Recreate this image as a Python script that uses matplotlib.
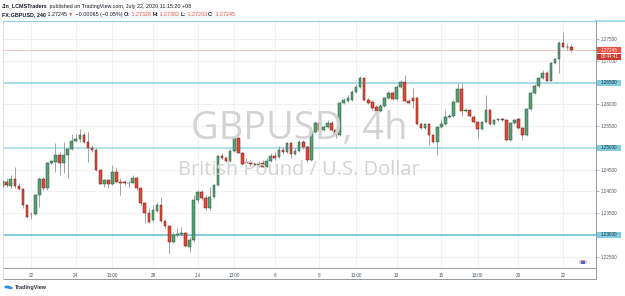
import matplotlib
matplotlib.use("Agg")
import matplotlib.pyplot as plt
from matplotlib.lines import Line2D
from matplotlib.patches import Rectangle, Circle

W, H = 625, 296

# ---------------- data (GBPUSD 4h, prices) ----------------
opens = [1.24123, 1.24222, 1.24130, 1.24284, 1.24130, 1.24054, 1.23686, 1.23472, 1.23479, 1.23916,
         1.24284, 1.24077, 1.24652, 1.24682, 1.24836, 1.24659, 1.24836, 1.24974, 1.25165, 1.25204,
         1.25296, 1.25142, 1.25004, 1.24951, 1.24491, 1.24176, 1.24261, 1.24162, 1.24452, 1.24222,
         1.24208, 1.24185, 1.24192, 1.24300, 1.24070, 1.23725, 1.23495, 1.23341, 1.23555, 1.23679,
         1.23325, 1.23210, 1.22842, 1.22996, 1.23012, 1.23035, 1.22727, 1.22881, 1.23801, 1.23992,
         1.23854, 1.23610, 1.23863, 1.24146, 1.24813, 1.24760, 1.24698, 1.24935, 1.25234, 1.24889,
         1.24682, 1.24645, 1.24629, 1.24606, 1.24645, 1.24567, 1.24698, 1.24813, 1.24790, 1.24951,
         1.24905, 1.25105, 1.24852, 1.24928, 1.25135, 1.25020, 1.24721, 1.25372, 1.25579, 1.25411,
         1.25487, 1.25579, 1.25411, 1.25296, 1.26025, 1.26085, 1.26101, 1.26292, 1.26407, 1.26600,
         1.26101, 1.26062, 1.25933, 1.25855, 1.25963, 1.26140, 1.26269, 1.26117, 1.26393, 1.26508,
         1.26085, 1.26140, 1.26140, 1.25542, 1.25464, 1.25542, 1.25296, 1.25142, 1.25473, 1.25549,
         1.25710, 1.25733, 1.26062, 1.26347, 1.25855, 1.25871, 1.25717, 1.25588, 1.25427, 1.25588,
         1.25871, 1.25542, 1.25641, 1.25664, 1.25634, 1.25181, 1.25579, 1.25657, 1.25464, 1.25296,
         1.25887, 1.26255, 1.26423, 1.26600, 1.26729, 1.26545, 1.26945, 1.27037, 1.27419, 1.27327,
         1.27328]
highs = [1.24261, 1.24307, 1.24376, 1.24560, 1.24192, 1.24077, 1.23709, 1.23525, 1.23939, 1.24330,
         1.24330, 1.24675, 1.24721, 1.25112, 1.24905, 1.25135, 1.24997, 1.25319, 1.25319, 1.25434,
         1.25372, 1.25372, 1.25066, 1.24990, 1.24514, 1.24284, 1.24284, 1.24606, 1.24567, 1.24300,
         1.24261, 1.24238, 1.24376, 1.24337, 1.24084, 1.23748, 1.23610, 1.23686, 1.23748, 1.23877,
         1.23341, 1.23226, 1.23072, 1.23157, 1.23187, 1.23072, 1.22957, 1.23916, 1.24031, 1.24031,
         1.23916, 1.24107, 1.24169, 1.24836, 1.24882, 1.24813, 1.24974, 1.25273, 1.25319, 1.24905,
         1.24767, 1.24721, 1.24675, 1.24698, 1.24721, 1.24767, 1.24882, 1.24905, 1.25043, 1.25020,
         1.25135, 1.25135, 1.24997, 1.25181, 1.25181, 1.25066, 1.25388, 1.25618, 1.25618, 1.25526,
         1.25641, 1.25618, 1.25434, 1.26055, 1.26147, 1.26216, 1.26331, 1.26469, 1.26653, 1.26630,
         1.26147, 1.26101, 1.25986, 1.26009, 1.26170, 1.26308, 1.26308, 1.26446, 1.26561, 1.26676,
         1.26124, 1.26370, 1.26170, 1.25572, 1.25572, 1.25572, 1.25319, 1.25503, 1.25641, 1.25871,
         1.25779, 1.26101, 1.26485, 1.26485, 1.25917, 1.25894, 1.25756, 1.25618, 1.25618, 1.26216,
         1.25894, 1.25664, 1.25687, 1.25687, 1.25664, 1.25595, 1.25664, 1.25687, 1.25480, 1.25917,
         1.26285, 1.26469, 1.26630, 1.26791, 1.26768, 1.26975, 1.27067, 1.27458, 1.27672, 1.27412,
         1.27382]
lows = [1.24100, 1.24100, 1.24077, 1.24077, 1.24031, 1.23617, 1.23387, 1.23364, 1.23456, 1.23640,
        1.24031, 1.24031, 1.24629, 1.24445, 1.24376, 1.24422, 1.24307, 1.24951, 1.25135, 1.25135,
        1.25112, 1.24682, 1.24905, 1.24468, 1.24162, 1.24107, 1.24070, 1.24146, 1.24208, 1.23916,
        1.24146, 1.24107, 1.24185, 1.24031, 1.23686, 1.23265, 1.23265, 1.23302, 1.23532, 1.23302,
        1.23157, 1.22559, 1.22812, 1.22957, 1.22996, 1.22720, 1.22612, 1.22842, 1.23762, 1.23801,
        1.23571, 1.23571, 1.23847, 1.24123, 1.24744, 1.24675, 1.24675, 1.24905, 1.24882, 1.24606,
        1.24606, 1.24583, 1.24583, 1.24560, 1.24549, 1.24549, 1.24675, 1.24721, 1.24767, 1.24859,
        1.24882, 1.24767, 1.24836, 1.24905, 1.24974, 1.24675, 1.24698, 1.25342, 1.25388, 1.25388,
        1.25457, 1.25388, 1.25227, 1.25273, 1.26009, 1.26055, 1.26078, 1.26262, 1.26377, 1.26078,
        1.26009, 1.25871, 1.25825, 1.25825, 1.25940, 1.26124, 1.26101, 1.26101, 1.26377, 1.26055,
        1.26009, 1.25910, 1.25526, 1.25434, 1.25434, 1.25066, 1.25112, 1.24836, 1.25457, 1.25526,
        1.25687, 1.25710, 1.26055, 1.25733, 1.25825, 1.25710, 1.25572, 1.25227, 1.25411, 1.25572,
        1.25526, 1.25526, 1.25618, 1.25618, 1.25158, 1.25158, 1.25549, 1.25434, 1.25181, 1.25273,
        1.25871, 1.26239, 1.26400, 1.26584, 1.26538, 1.26538, 1.26929, 1.26729, 1.27297, 1.27251,
        1.27203]
closes = [1.24238, 1.24146, 1.24284, 1.24130, 1.24054, 1.23686, 1.23410, 1.23486, 1.23916, 1.24284,
          1.24077, 1.24652, 1.24698, 1.24836, 1.24659, 1.24836, 1.24974, 1.25165, 1.25211, 1.25296,
          1.25142, 1.25004, 1.24951, 1.24491, 1.24176, 1.24261, 1.24162, 1.24452, 1.24222, 1.24199,
          1.24185, 1.24199, 1.24300, 1.24070, 1.23739, 1.23495, 1.23302, 1.23571, 1.23686, 1.23325,
          1.23210, 1.22842, 1.22996, 1.23012, 1.23035, 1.22732, 1.22881, 1.23801, 1.23992, 1.23840,
          1.23610, 1.23863, 1.24146, 1.24813, 1.24760, 1.24698, 1.24935, 1.25234, 1.24889, 1.24629,
          1.24645, 1.24629, 1.24606, 1.24629, 1.24567, 1.24698, 1.24813, 1.24767, 1.24951, 1.24905,
          1.25105, 1.24852, 1.24928, 1.25128, 1.25020, 1.24721, 1.25372, 1.25579, 1.25411, 1.25487,
          1.25579, 1.25411, 1.25296, 1.26025, 1.26101, 1.26140, 1.26292, 1.26407, 1.26600, 1.26101,
          1.26039, 1.25910, 1.25855, 1.25963, 1.26140, 1.26269, 1.26117, 1.26407, 1.26508, 1.26078,
          1.26039, 1.26085, 1.25542, 1.25464, 1.25542, 1.25296, 1.25142, 1.25473, 1.25549, 1.25710,
          1.25733, 1.26062, 1.26347, 1.25855, 1.25871, 1.25733, 1.25588, 1.25427, 1.25588, 1.25871,
          1.25542, 1.25641, 1.25664, 1.25634, 1.25181, 1.25572, 1.25641, 1.25464, 1.25296, 1.25887,
          1.26255, 1.26423, 1.26600, 1.26715, 1.26545, 1.26945, 1.27037, 1.27419, 1.27313, 1.27313,
          1.27245]

time_tick_pos = [7, 18, 27, 37, 48, 57, 67, 78, 87, 97, 108, 117, 127, 138]
time_tick_labels = ["22", "24", "13:00", "29", "Jul", "13:00", "6", "8", "13:00", "13", "15", "13:00", "20", "22"]
price_ticks = [1.225, 1.230, 1.235, 1.240, 1.245, 1.250, 1.255, 1.260, 1.265, 1.270, 1.275]
level_lines = [1.2792, 1.2650, 1.2500, 1.2300]
last_price = 1.27245
countdown = "03:44:41"

FONT = ["Liberation Sans", "DejaVu Sans"]
plt.rcParams["font.family"] = FONT

fig = plt.figure(figsize=(W / 100, H / 100), dpi=100)
fig.patch.set_facecolor("white")

px_l, px_r, px_t, px_b = 2.5, 596, 20.5, 268
Y0, Y1 = 1.22237, 1.27930
ax = fig.add_axes([px_l / W, 1 - px_b / H, (px_r - px_l) / W, (px_b - px_t) / H])
ax.set_xlim(-0.05, 146.1)
ax.set_ylim(Y0, Y1)
ax.set_facecolor("white")

# grid
for p in price_ticks:
    ax.axhline(p, color="#f0f1f4", lw=0.7, zorder=0)
for t in time_tick_pos:
    ax.axvline(t, color="#f0f1f4", lw=0.7, zorder=0)

renderer = fig.canvas.get_renderer()

def fit(txt, target_w):
    w = txt.get_window_extent(renderer).width
    txt.set_fontsize(txt.get_fontsize() * target_w / w)

def fx(x):
    return x / W

def fy(y):
    return 1 - y / H

# watermark
wm1 = fig.text(fx(299), fy(138.5), "GBPUSD, 4h", ha="center", va="baseline",
               color="#d3d3d3", fontsize=30, family=["Open Sans", "DejaVu Sans"], zorder=1)
fit(wm1, 216)
wm2 = fig.text(fx(299), fy(175), "British Pound / U.S. Dollar", ha="center", va="baseline",
               color="#d3d3d3", fontsize=14, family=["Open Sans", "DejaVu Sans"], zorder=1)
fit(wm2, 242)

# level lines
for lv, c in zip(level_lines, ["#8fd3e3", "#8fd3e3", "#9fd9e6", "#5bbfd6"]):
    ax.axhline(lv, color=c, lw=1.1, zorder=2)
ax.axhline(last_price, color="#f6b9b2", lw=0.6, zorder=2)

# candles
up_body, up_edge = "#5b9f74", "#24583a"
dn_body, dn_edge = "#de4b3b", "#6d1a12"
for i, (o, h, l, c) in enumerate(zip(opens, highs, lows, closes)):
    ax.vlines(i, l, h, color="#8c8c8c", lw=0.55, zorder=3)
    up = c >= o
    bot = min(o, c)
    hgt = max(abs(c - o), 0.00005)
    ax.bar(i, hgt, bottom=bot, width=0.66, color=up_body if up else dn_body,
           edgecolor=up_edge if up else dn_edge, linewidth=0.35, zorder=4)

# axes styling
ax.set_xticks(time_tick_pos)
ax.set_xticklabels(time_tick_labels)
ax.set_yticks(price_ticks)
ax.set_yticklabels([f"{p:.5f}" for p in price_ticks])
ax.yaxis.tick_right()
ax.tick_params(axis="y", length=2.0, width=0.5, color="#9598a1", pad=1.2, labelsize=3.3,
               labelcolor="#4c525e")
ax.tick_params(axis="x", length=0, pad=3.8, labelsize=3.3, labelcolor="#4c525e")
ax.spines["left"].set_color("#d6d8de")
ax.spines["left"].set_linewidth(0.6)
ax.spines["top"].set_color("#8fd3e3")
ax.spines["top"].set_linewidth(0.8)
ax.spines["right"].set_color("#9598a1")
ax.spines["right"].set_linewidth(0.7)
ax.spines["bottom"].set_color("#9598a1")
ax.spines["bottom"].set_linewidth(0.7)

# frame lines around time axis / price axis
fig.add_artist(Line2D([fx(px_l), fx(596)], [fy(279), fy(279)], color="#9598a1", lw=0.7))
fig.add_artist(Line2D([fx(596), fx(596)], [fy(268), fy(279)], color="#9598a1", lw=0.7))
fig.add_artist(Line2D([fx(px_l), fx(px_l)], [fy(268), fy(279)], color="#d6d8de", lw=0.6))
fig.add_artist(Line2D([fx(596), fx(625)], [fy(20.5), fy(20.5)], color="#8fd3e3", lw=1.1))

# price axis labels for levels
def price_box(y_val, text, fc, tc, dy=0.0):
    ypix = px_t + (Y1 - y_val) / (Y1 - Y0) * (px_b - px_t) + dy
    fig.add_artist(Rectangle((fx(597), fy(ypix + 3.1)), 24 / W, 6.2 / H, facecolor=fc,
                             edgecolor="none", zorder=10))
    fig.text(fx(600.5), fy(ypix), text, ha="left", va="center", fontsize=3.3, color=tc,
             zorder=11)

for lv in level_lines[1:]:
    price_box(lv, f"{lv:.5f}", "#7fcde0", "#1c2b33")
price_box(last_price, f"{last_price:.5f}", "#e8503f", "white")
price_box(last_price, countdown, "#c9382a", "white", dy=6.4)

# economic event icon
fig.add_artist(Circle((fx(583), fy(262)), 3.4 / W, facecolor="white", edgecolor="#f08080",
                      lw=0.6, zorder=12))
fig.add_artist(Rectangle((fx(581), fy(263.5)), 4 / W, 3 / H, facecolor="#3a6fd8",
                         edgecolor="none", zorder=13))

# header
def pieces(x0, ybase, parts, size):
    x = x0
    for s, color, bold in parts:
        t = fig.text(fx(x), fy(ybase), s, ha="left", va="baseline", fontsize=size,
                     color=color, weight="bold" if bold else "normal")
        x += t.get_window_extent(renderer).width
    return x

dark = "#131722"
red = "#e8503f"
pieces(2, 7.8, [("Jin_LCMSTraders", dark, True),
                (" published on TradingView.com, July 22, 2020 11:15:20 +08", dark, False)], 3.85)
pieces(2, 16.2, [("FX:GBPUSD, 240", dark, True), (" 1.27245 ", dark, False),
                 ("\u25bc", red, False), (" \u22120.00065 (\u22120.05%) ", dark, False),
                 ("O:", dark, True), (" 1.27328 ", red, False),
                 ("H:", dark, True), (" 1.27382 ", red, False),
                 ("L:", dark, True), (" 1.27203 ", red, False),
                 ("C:", dark, True), (" 1.27245", red, False)], 3.85)

# TradingView footer
fig.add_artist(Circle((fx(7.5), fy(287)), 3.2 / W, facecolor="#2e8fe0", edgecolor="none"))
fig.add_artist(Circle((fx(10.5), fy(288)), 2.4 / W, facecolor="#2e8fe0", edgecolor="none"))
fig.text(fx(15), fy(289.5), "TradingView", ha="left", va="baseline", fontsize=3.9,
         color="#2a2e39", weight="bold")

fig.savefig("out.png", dpi=100, facecolor="white")
